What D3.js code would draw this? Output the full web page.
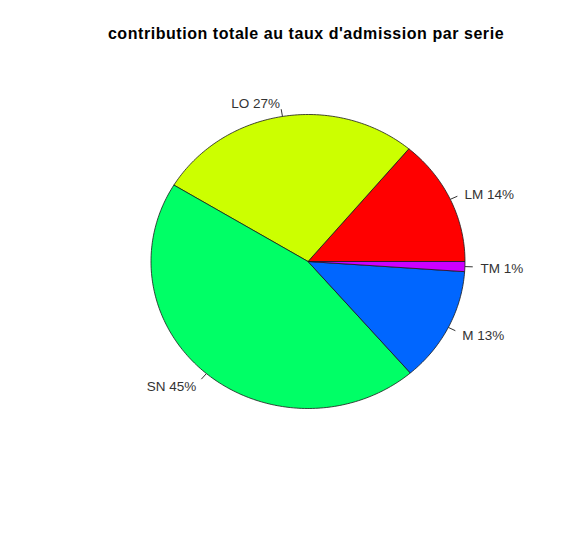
<!DOCTYPE html>
<html>
<head>
<meta charset="utf-8">
<script src="https://cdn.jsdelivr.net/npm/d3@7"></script>
<style>
  body { margin: 0; background: #fff; }
  text { font-family: "Liberation Sans", Arial, sans-serif; }
</style>
</head>
<body>
<svg id="chart" width="582" height="540"></svg>
<script>
// series, in drawing order (counter-clockwise from 3 o'clock, like R's pie)
const series = ['LM', 'LO', 'SN', 'M', 'TM'];
const shares = [13.9, 27.4, 45.0, 12.6, 1.1];
const sliceColors = ['#FF0000', '#CCFF00', '#00FF66', '#0066FF', '#CC00FF'];
const titleText = "contribution totale au taux d'admission par serie";

const svg = d3.select('#chart');
const cx = 308, cy = 261.5;
const rx = 157, ry = 147;

/* ------------ Pie ----------------*/
// angle scale : cumulative share -> radians, counter-clockwise from 0
const total = d3.sum(shares);
const angle = d3.scaleLinear().domain([0, total]).range([0, 2 * Math.PI]);
const cum = d3.cumsum(shares);
const slices = shares.map((v, i) => ({
  name: series[i],
  value: v,
  a0: angle(i === 0 ? 0 : cum[i - 1]),
  a1: angle(cum[i]),
  color: sliceColors[i]
}));

// map unit-circle point to screen (ellipse, y up)
const px = (a, k) => cx + k * rx * Math.cos(a);
const py = (a, k) => cy - k * ry * Math.sin(a);

const g = svg.append('g');

const slicePath = (d) => {
  const n = Math.max(2, Math.ceil((d.a1 - d.a0) / (Math.PI / 180)));
  const p = d3.path();
  p.moveTo(cx, cy);
  d3.range(n + 1).forEach(j => {
    const a = d.a0 + (d.a1 - d.a0) * j / n;
    p.lineTo(px(a, 1), py(a, 1));
  });
  p.closePath();
  return p.toString();
};

g.selectAll('path.slice')
  .data(slices)
  .join('path')
  .attr('class', 'slice')
  .attr('d', slicePath)
  .attr('fill', d => d.color)
  .attr('stroke', '#1a1a1a')
  .attr('stroke-width', 0.8)
  .attr('stroke-linejoin', 'round');

// label ticks from r to 1.05r
g.selectAll('line.tick')
  .data(slices)
  .join('line')
  .attr('class', 'tick')
  .attr('x1', d => px((d.a0 + d.a1) / 2, 1))
  .attr('y1', d => py((d.a0 + d.a1) / 2, 1))
  .attr('x2', d => px((d.a0 + d.a1) / 2, 1.05))
  .attr('y2', d => py((d.a0 + d.a1) / 2, 1.05))
  .attr('stroke', '#333')
  .attr('stroke-width', 1);

// labels at 1.1r
g.selectAll('text.lab')
  .data(slices)
  .join('text')
  .attr('class', 'lab')
  .attr('x', d => px((d.a0 + d.a1) / 2, 1.1))
  .attr('y', d => py((d.a0 + d.a1) / 2, 1.1) + 1.5)
  .attr('dominant-baseline', 'central')
  .attr('text-anchor', d => Math.cos((d.a0 + d.a1) / 2) < 0 ? 'end' : 'start')
  .attr('font-size', '13.5px')
  .attr('fill', '#333')
  .text(d => `${d.name} ${Math.round(d.value / total * 100)}%`);

/* ------------ Title ----------------*/
svg.append('text')
  .attr('x', 306)
  .attr('y', 38.5)
  .attr('text-anchor', 'middle')
  .attr('font-size', '16px')
  .attr('font-weight', 'bold')
  .attr('letter-spacing', 0.55)
  .attr('fill', '#000')
  .text(titleText);
</script>
</body>
</html>
